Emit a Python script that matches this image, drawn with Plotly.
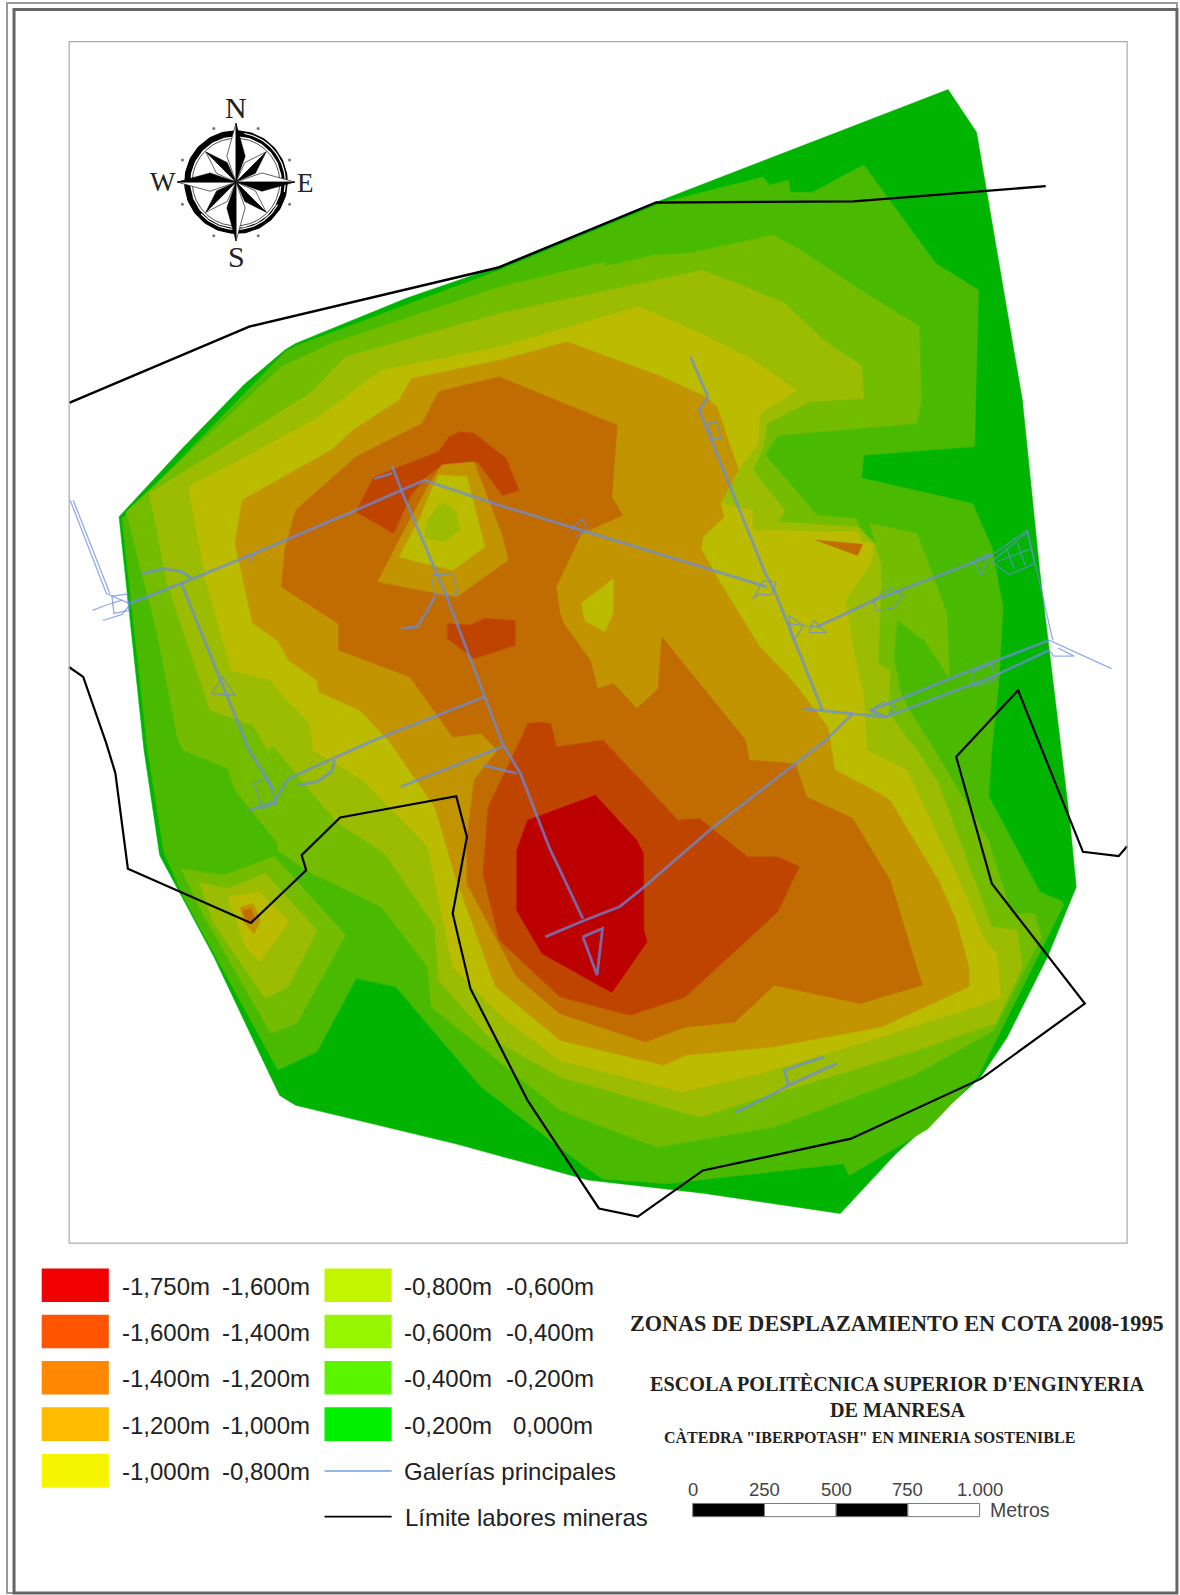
import numpy as np
import plotly.graph_objects as go

# ---------- map data (map units) ----------
ZONE_0 = [(932,88),(960,130),(972,200),(1005,393),(1022,560),(1043,737),(1052,810),(1058,872),(1030,940),(990,1020),(964,1059),(880,1135),(826,1193),(691,1173),(578,1160),(450,1125),(290.6,1086.6),(275,1077),(262,1050),(210,940),(157,841),(141.5,737),(117,508),(180,440),(240,378),(280,344),(290.6,337.6),(400,293),(490,262),(647,198)]
ZONE_1 = [(659,197),(750,174),(756,182),(775,177),(777,189),(799,189),(849,162),(920,259),(962,285),(961,324),(958,439),(849,447.5),(847,470),(956,495),(975,538),(986,597),(982,669),(975,737),(972,783),(1022.5,877),(1042,885),(1046,889),(962,1057),(912,1110),(835,1155.5),(829,1144),(656,1163.6),(592,1159),(571,1144),(473,1068.6),(389,970),(350,962),(311.6,1034),(273,1052),(182,885),(161,838),(145,737),(120,510),(280,346),(291,340),(490,266),(647,201)]
ZONE_2 = [(491.6,282),(526.6,273.6),(594.6,257.6),(594.6,261.7),(643,250.8),(678,249),(759.8,231),(786.8,245.8),(841,282),(903.7,321),(905.6,393),(901.5,416.3),(764.6,427.8),(752.4,447.5),(803.2,506.5),(841.8,509.7),(848.8,525),(861,534.3),(855,514.7),(901.5,524.5),(931,603),(933,665.5),(908.5,629.4),(882,609.7),(878.7,645.8),(885.7,682),(896,701.5),(919,737.6),(971.6,826),(994,898),(1017,898),(1024,921),(977,1013),(901,1055.5),(761,1108),(645.3,1127.6),(550.6,1091.5),(424,990),(420.4,950.6),(374.8,891.5),(301,855.5),(273,835.8),(273,829),(231,776.8),(224,755.5),(180,737.4),(175,727.6),(153.7,619.6),(124,503),(276.5,360.6),(325.7,337.6)]
ZONE_3 = [(491.6,308),(690,265.6),(721,277),(771,298),(814,338),(847,359),(849,391.7),(796,395),(754,416.3),(750.6,439.3),(740,462),(771.6,501.5),(764.6,513),(843.6,518),(859.4,534.3),(866,554),(866,580),(863,652.4),(875,659),(873.4,701.5),(901,737),(922.5,770),(975,911),(1000,914.5),(1005,950.6),(978.7,1006),(901.5,1032.5),(761,1075),(687.4,1098),(550.6,1058.7),(480,1019),(431,963.7),(427.4,911),(378.3,839),(332.7,809.6),(301,773.5),(269.5,734),(262.5,737.6),(248.5,713),(206.4,698.3),(164.3,573.7),(146.7,485),(304.6,386.8),(339.7,350.7)]
ZONE_4 = [(491.6,341),(627.6,301.6),(690,328),(740,354),(783,383.6),(769.5,392),(747,406.5),(745.3,436),(726,462),(708.5,495),(740,501.5),(740,521),(843.6,523),(847,532.7),(859,534.3),(856,554),(831.3,590),(838.3,636),(849,685),(852.3,737.6),(891,757),(940,858.7),(968,924),(980,937.4),(984,980),(968,986.6),(866,1019.4),(747,1055.5),(670,1073.5),(550.6,1042.4),(494,1000),(445,950.6),(420.4,832.5),(357,767),(308,737.6),(304.6,711.4),(276.5,682),(266,668.7),(227.4,659),(203,573.7),(185.3,478.6),(311.6,411.4),(374.8,364)]
ZONE_5 = [(491.6,354),(557.7,336),(647,369),(694,390),(705,400),(726,462),(708.5,495),(712,508),(691,528),(689,539.3),(708.5,573.7),(747,636),(778.7,668.8),(813.8,714.7),(820.8,757),(859.4,777),(875,786.6),(922.5,865.3),(940,904.6),(952.4,950.6),(952.4,970),(866.4,1009.6),(761,1029),(673.4,1037.4),(652.4,1047.3),(550.6,1022.7),(487,970),(447,860),(427.4,793),(381.8,727.6),(353.7,698.3),(313.4,680.2),(311.6,668.8),(283.6,649),(273,629.4),(248.5,613),(231,534.3),(238,491.7),(325.7,442.5),(346.7,423),(392.3,393.4),(404.6,372)]
ZONE_6 = [(431,385),(490.6,370.4),(550.6,395),(606.7,418),(601.5,488.4),(612,506.5),(571.7,524.5),(546.7,577),(550.6,603),(554,613),(580.4,649),(587.4,677),(603.2,672),(626,696.6),(647,677),(650.6,626),(733,727.8),(736.6,747.3),(782,750.6),(792.7,783.3),(838.3,804.6),(875,865.3),(906.7,968.6),(845.3,986.6),(761,968.6),(722.5,1004.7),(673.4,1009.6),(634.8,1024.3),(550.6,996.5),(508,960.4),(459,868.6),(459,826),(466,767),(489,737.6),(473,721),(445,724.5),(403,665.5),(332.7,639),(332.7,613),(276.5,577),(280,541),(290.6,501.5),(350,449),(415,416.3)]
ZONE_7A = [(452,424.5),(466,426),(497.6,450.7),(510,482),(494,487),(469.5,454),(436.2,455.6),(417,470.4),(403,488.4),(387,524.5),(350,503),(367.8,468.8),(431,444),(441.5,429.4)]
ZONE_7B = [(439.7,613),(462.5,614.7),(476.5,608),(506.4,610),(506.4,634.3),(466,647.5),(439.7,627.8)]
ZONE_7C = [(518.6,711.4),(529,710),(541.5,711.4),(547,734.4),(592.7,727.6),(666.4,806.3),(687.4,804.6),(734.8,842.4),(764.6,842.4),(785.7,852),(764.6,896.4),(673.4,980),(619,998),(550.6,980),(490.6,924),(474.8,858.7),(480,793),(511.6,727.6)]
ZONE_8 = [(585.3,781.7),(518.6,806.3),(508,836),(508,895),(532.7,937.4),(599.4,975),(601.5,975.8),(636,926),(633,914.5),(632.4,839),(626,826)]
# raised spot in the north
HOLE_5 = [(434.4,457.3),(466,454),(494,527.8),(499.4,550.7),(448.5,586.8),(371.3,572),(395.8,524.5),(420.4,478.6)]
HOLE_4 = [(431,467),(459,468.8),(476.5,537.6),(445,560.6),(392.3,547.5),(413.4,508),(424,482)]
HOLE_3 = [(434.4,493.4),(448.5,503),(452,521),(436.2,532.7),(417,527.8),(420.4,511.4)]
HOLE_E4 = [(603,568.8),(571.7,593),(575,610),(594.5,621),(602.5,603)]
SLIVER_6 = [(802,531),(848,535),(843,546)]
# south-west island
ISLE_2 = [(178,854),(220,860.4),(269.5,842),(339.7,919),(292,1006),(266,1016),(199,898)]
ISLE_3 = [(196,867),(224,873.5),(261,858.7),(311.6,914.5),(283.6,970),(260.8,981.7),(210,908)]
ISLE_4 = [(224,881.7),(255.5,876.8),(283.6,906.3),(255.5,945.6),(241.5,931)]
ISLE_5 = [(236,892),(249,888),(256,905),(250,918),(240,908)]
ISLE_6 = [(238,895),(247,893),(250,903),(244,908)]

ZONE_COLORS = ["#00B400","#4ABA00","#73BC00","#9BBC00","#BBBC00","#C29400","#C06C00","#BF4400","#BC0000"]

LIMIT_N = [(68,396),(245,321),(490,263),(645,199),(839,198),(1028,183)]
LIMIT_S = [(67.8,655.7),(81.8,665.5),(104.6,731),(113.4,760),(125.7,854),(246.7,907.3),(301,855.5),(296.5,840.7),(334.4,803.7),(448.5,782.7),(459,822.7),(445,898),(462.5,972),(518.6,1081.7),(588.8,1188),(627,1196),(691,1150.6),(836.6,1119.4),(964.6,1060.4),(1066.4,986.6),(975,868.6),(940,744),(1000.8,678.6),(1064.6,837.4),(1099.7,841.7),(1108,832)]

# galleries drawn as wide roads over the map
GALLERIES = [
 [(127.4,593.4),(181.8,572),(250,544),(350,501.5),(417,472),(490.6,496.6),(571.3,521.2),(754,577)],
 [(385.3,457.3),(395.8,485.2),(438,583.5),(494,731),(511.6,760.4),(539.7,832.5),(573,903)],
 [(536,921),(574.8,904.6),(609,891.5),(629.5,875),(701.5,812.8),(782,750.6),(812,727.6),(838.3,701.5)],
 [(573,921),(592.3,912.8),(587,958.7),(573,921)],
 [(678.7,350.7),(696,390),(687.4,403),(752.4,564),(761,580),(808.5,698.3)],
 [(789,696.6),(838.3,701.5),(870,705),(856,698),(873.4,691.7),(954,659),(1031.3,629.4)],
 [(870,705),(975,665.5),(1031.3,639.3)],
 [(803,616.3),(859.4,590),(954,554),(975,545.8)],
 [(178.3,573.7),(245,737.6),(269.5,776.8)],
 [(139.7,564),(160.8,559),(178.3,562),(188.8,568.8)],
 [(245,796.5),(269.5,788.3),(283.6,765.3),(367.8,727.6),(476.5,685)],
 [(292.3,771.9),(311.6,768.6),(325.7,758.7),(329.2,747.3)],
 [(394,773.5),(494,734)],[(474.8,752.2),(508,760.4)],
 [(394,618),(410,616.3),(420.4,600),(427.4,586.8)],
 [(367.8,470.4),(385.3,465.5)],
 [(722.5,1094),(761,1075),(775,1067),(822.5,1045.6)],[(775,1067),(771,1052),(810,1039)],
]
# thin outlines: junctions, workshops and the ends outside the map
GALLERY_DETAIL = [
 [(69,491.7),(104.6,583.5),(127.4,593.4)],
 [(72,491.7),(108,583.5)],
 [(91,600),(104,595),(120,590)],[(101,610),(120,604),(128,594)],
 [(110,586),(125,584),(127,600),(112,603),(110,586)],
 [(696,416),(705,414.7),(708.5,431),(699.7,431),(696,416)],
 [(740,589),(750,571),(763,572),(758,585),(745,584),(740,589)],
 [(1031.3,629.4),(1035,631),(1092.7,657.3)],[(1040,637),(1056,645),(1036,645),(1031,639)],
 [(955,662),(975,652),(978,668),(958,675),(955,662)],
 [(856,698),(868,690),(880,695),(872,705),(856,698)],
 [(775,613),(803,616.3)],[(775,605),(790,615),(780,630),(775,605)],[(795,622),(812,622),(800,610),(795,622)],
 [(858,590),(875,578),(888,585),(878,598),(862,600),(858,590)],
 [(956,550),(965,565),(972,545),(958,550)],
 [(975,545.8),(1010,521),(1035,629.4)],
 [(975,552),(1010,523),(1017,554),(992,565),(975,552)],[(990,540),(997,560)],[(1000,533),(1008,556)],[(980,552),(1012,540)],
 [(208,682),(218.7,665.5),(231,683.5),(208,682)],
 [(250,770),(262,765),(272,790),(258,795),(250,770)],
 [(424,565.5),(445,563.8),(450,585),(427.4,585),(424,565.5)],
 [(240,548),(250,545),(245,555)],[(560,522),(572,510),(578,520),(566,528)],
]
GALLERY_RGBA = "rgba(105,140,225,0.72)"

LEG_LEFT = ["-1,750m","-1,600m","-1,400m","-1,200m","-1,000m"]
LEG_LEFT2 = ["-1,600m","-1,400m","-1,200m","-1,000m","-0,800m"]
LEG_RIGHT = ["-0,800m","-0,600m","-0,400m","-0,200m"]
LEG_RIGHT2 = ["-0,600m","-0,400m","-0,200m","0,000m"]
LEG_COL_L = ["#F00000","#FF5500","#FF8800","#FFBB00","#F5F500"]
LEG_COL_R = ["#C4F500","#96F500","#5CF500","#00F000"]
LEG_ROW_Y = [1263.5,1309,1354.5,1400,1446]

SCALE_TICKS = [0,250,500,750,1000]
SCALE_LABELS = ["0","250","500","750","1.000"]

# ---------- figure ----------
fig = go.Figure()

def poly(pts, color, line=None, lw=0):
    xs = [p[0] for p in pts] + [pts[0][0]]
    ys = [p[1] for p in pts] + [pts[0][1]]
    fig.add_trace(go.Scatter(x=xs, y=ys, mode="lines", fill="toself", fillcolor=color,
                             line=dict(color=line or color, width=lw if line else 0.5),
                             hoverinfo="skip", showlegend=False))

def path(pts, color, width):
    fig.add_trace(go.Scatter(x=[p[0] for p in pts], y=[p[1] for p in pts], mode="lines",
                             line=dict(color=color, width=width), hoverinfo="skip", showlegend=False))

for pts, idx in [(ZONE_0,0),(ZONE_1,1),(ZONE_2,2),(ISLE_2,2),(ISLE_3,3),(ISLE_4,4),(ISLE_5,5),(ISLE_6,6),
                 (ZONE_3,3),(ZONE_4,4),(ZONE_5,5),(SLIVER_6,6),(ZONE_6,6),(ZONE_7A,7),(ZONE_7B,7),(ZONE_7C,7),
                 (HOLE_5,5),(HOLE_4,4),(HOLE_3,3),(HOLE_E4,4),(ZONE_8,8)]:
    poly(pts, ZONE_COLORS[idx])

for g in GALLERIES:
    path(g, GALLERY_RGBA, 2.8)
for g in GALLERY_DETAIL:
    path(g, GALLERY_RGBA, 1.3)
path(LIMIT_N, "#000000", 2.4)
path(LIMIT_S, "#000000", 2.2)

# compass rose
cx, cy = 232, 179
theta = np.linspace(0, 2*np.pi, 181)
path(list(zip(cx+48*np.cos(theta), cy+48*np.sin(theta))), "#000000", 6)
t2 = np.linspace(0.5, 2.4, 40)
path(list(zip(cx+46.5*np.cos(t2), cy+46.5*np.sin(t2))), "#FFFFFF", 1.2)
t3 = np.linspace(-1.4, 0.2, 40)
path(list(zip(cx+48.5*np.cos(t3), cy+48.5*np.sin(t3))), "#FFFFFF", 1.2)
path(list(zip(cx+43*np.cos(theta), cy+43*np.sin(theta))), "#222222", 0.8)
for k in range(8):
    a = np.pi/8 + k*np.pi/4
    fig.add_trace(go.Scatter(x=[cx+57*np.cos(a)], y=[cy+57*np.sin(a)], mode="markers",
                             marker=dict(size=3, color="#777777"), hoverinfo="skip", showlegend=False))

def star(r_tip, r_sh, offset, spread):
    for k in range(4):
        a = offset + k*np.pi/2 - np.pi/2
        tip = (cx+r_tip*np.cos(a), cy+r_tip*np.sin(a))
        cw = (cx+r_sh*np.cos(a+spread), cy+r_sh*np.sin(a+spread))
        ccw = (cx+r_sh*np.cos(a-spread), cy+r_sh*np.sin(a-spread))
        poly([tip, ccw, (cx,cy)], "#FFFFFF", "#222222", 0.7)
        poly([tip, cw, (cx,cy)], "#000000", "#000000", 0.5)
star(42, 21, np.pi/4, 0.36)
star(58, 27, 0, 0.34)

layout_ann = []
def text(x, y, s, size, family="Liberation Sans", color="#222222", anchor="left", bold=False):
    layout_ann.append(dict(x=x, y=y, xref="x", yref="y", text=f"<b>{s}</b>" if bold else s,
                           showarrow=False, xanchor=anchor, yanchor="middle",
                           font=dict(family=family, size=size, color=color)))

SERIF = "Liberation Serif"
text(232, 106, "N", 30, SERIF, anchor="center")
text(232, 252, "S", 30, SERIF, anchor="center")
text(160, 179, "W", 27, SERIF, anchor="center")
text(300, 180, "E", 27, SERIF, anchor="center")

shapes = [
    dict(type="rect", xref="x", yref="y", x0=6.9, y0=3, x1=1157, y1=1566, line=dict(color="#999999", width=2)),
    dict(type="rect", xref="x", yref="y", x0=13.8, y0=9.3, x1=1157, y1=1566, line=dict(color="#666666", width=3)),
    dict(type="rect", xref="x", yref="y", x0=68, y0=41, x1=1108, y1=1222, line=dict(color="#AAAAAA", width=1.2)),
]
for i, (y, c) in enumerate(zip(LEG_ROW_Y, LEG_COL_L)):
    shapes.append(dict(type="rect", xref="x", yref="y", x0=41, x1=107, y0=y-16.5, y1=y+16.5, fillcolor=c, line=dict(width=0)))
    text(117.5, y+1, LEG_LEFT[i], 24)
    text(216.5, y+1, LEG_LEFT2[i], 24)
for i, (y, c) in enumerate(zip(LEG_ROW_Y, LEG_COL_R)):
    shapes.append(dict(type="rect", xref="x", yref="y", x0=319, x1=385, y0=y-16.5, y1=y+16.5, fillcolor=c, line=dict(width=0)))
    text(395.5, y+1, LEG_RIGHT[i], 24)
    text(495.5 if i < 3 else 502.5, y+1, LEG_RIGHT2[i], 24)
shapes.append(dict(type="line", xref="x", yref="y", x0=319, x1=385, y0=1446, y1=1446, line=dict(color="#6FA0E0", width=1.5)))
shapes.append(dict(type="line", xref="x", yref="y", x0=319, x1=385, y0=1491, y1=1491, line=dict(color="#000000", width=1.8)))
text(395.5, 1447, "Galerías principales", 24)
text(396.5, 1492, "Límite labores mineras", 24)

text(882, 1301, "ZONAS DE DESPLAZAMIENTO EN COTA 2008-1995", 22.2, SERIF, anchor="center", bold=True)
text(882, 1361, "ESCOLA POLITÈCNICA SUPERIOR D'ENGINYERIA", 20.2, SERIF, anchor="center", bold=True)
text(883, 1386, "DE MANRESA", 20.2, SERIF, anchor="center", bold=True)
text(854.5, 1413, "CÀTEDRA \"IBERPOTASH\" EN MINERIA SOSTENIBLE", 16, SERIF, anchor="center", bold=True)

# scale bar: metres to map units
sb0, sb_per_m = 681, (963-681)/1000
for i in range(4):
    shapes.append(dict(type="rect", xref="x", yref="y", x0=sb0+SCALE_TICKS[i]*sb_per_m, x1=sb0+SCALE_TICKS[i+1]*sb_per_m,
                       y0=1478, y1=1491, fillcolor="#000000" if i % 2 == 0 else "#FFFFFF",
                       line=dict(color="#777777", width=1)))
for t, l in zip(SCALE_TICKS, SCALE_LABELS):
    text(sb0+t*sb_per_m, 1464, l, 18.5, color="#444444", anchor="center")
text(971.5, 1484, "Metros", 19.5, color="#444444")

fig.update_layout(width=1180, height=1595, margin=dict(l=0, r=0, t=0, b=0),
                  paper_bgcolor="#FFFFFF", plot_bgcolor="#FFFFFF", showlegend=False,
                  xaxis=dict(range=[0,1160], visible=False, fixedrange=True),
                  yaxis=dict(range=[1568,0], visible=False, fixedrange=True),
                  shapes=shapes, annotations=layout_ann)
fig.write_html("out.html", config=dict(displayModeBar=False),
               post_script="document.body.style.margin='0';document.body.style.overflow='hidden';")
